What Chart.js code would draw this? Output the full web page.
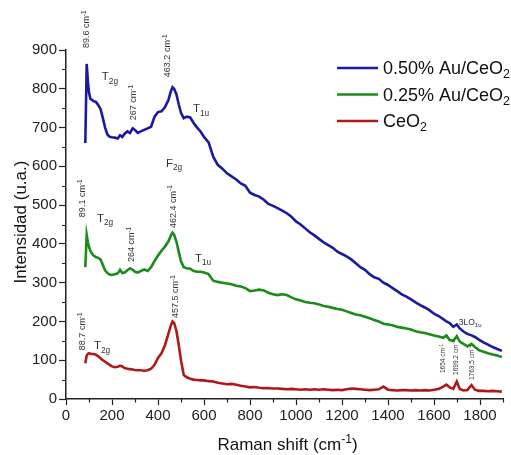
<!DOCTYPE html>
<html>
<head>
<meta charset="utf-8">
<script src="https://cdn.jsdelivr.net/npm/chart.js@4.4.1/dist/chart.umd.min.js"></script>
<style>
  html, body { margin: 0; padding: 0; background: #fff; }
</style>
</head>
<body>
<canvas id="ramanChart" width="511" height="455"></canvas>
<script>
// Raman shift (cm-1), shared by the three spectra
const ramanShift = [
  84, 90, 95, 100, 106, 112, 120, 130, 140, 150,
  160, 170, 180, 190, 200, 212, 225, 235, 245, 255,
  267, 278, 290, 300, 312, 325, 340, 355, 370, 385,
  400, 415, 430, 445, 455, 463, 470, 480, 490, 500,
  512, 525, 540, 555, 570, 585, 600, 620, 640, 660,
  680, 700, 720, 740, 760, 780, 800, 820, 840, 860,
  880, 900, 920, 940, 960, 980, 1000, 1020, 1040, 1060,
  1080, 1100, 1120, 1140, 1160, 1180, 1200, 1220, 1240, 1260,
  1280, 1300, 1320, 1340, 1360, 1380, 1400, 1420, 1440, 1460,
  1480, 1500, 1520, 1540, 1560, 1580, 1600, 1620, 1640, 1654,
  1668, 1684, 1699, 1712, 1728, 1745, 1763, 1778, 1795, 1815,
  1835, 1855, 1875, 1895
];

// 0.50% Au/CeO2
const au050 = [
  660, 864, 820, 790, 774, 772, 768, 766, 758, 748,
  725, 700, 682, 676, 675, 674, 672, 680, 676, 684,
  690, 686, 698, 694, 686, 690, 694, 698, 702, 728,
  740, 742, 752, 770, 792, 804, 800, 786, 760, 738,
  724, 728, 726, 712, 700, 690, 676, 662, 625, 604,
  594, 582, 574, 566, 556, 550, 532, 526, 522, 514,
  503, 498, 492, 486, 479, 470, 458, 450, 440, 430,
  422, 413, 404, 397, 390, 380, 374, 368, 360, 350,
  340, 333, 322, 314, 310, 300, 294, 286, 278, 270,
  264, 257, 249, 242, 236, 229, 220, 214, 206, 200,
  196, 186, 192, 182, 174, 168, 164, 160, 153, 146,
  140, 134, 129, 124
];

// 0.25% Au/CeO2
const au025 = [
  340, 423, 405, 392, 382, 376, 370, 366, 364, 360,
  346, 332, 325, 321, 320, 322, 324, 333, 325, 326,
  332, 337, 333, 328, 326, 330, 334, 330, 340, 356,
  370, 382, 393, 406, 420, 429, 424, 406, 380, 355,
  340, 337, 336, 330, 328, 328, 326, 322, 305, 302,
  300, 298, 296, 292, 290, 286, 278, 280, 282, 280,
  274, 270, 268, 270, 268, 262, 257, 254, 250, 248,
  247, 244, 240, 238, 235, 232, 230, 226, 222, 218,
  216, 212, 208, 204, 200, 194, 192, 190, 186, 184,
  182, 179, 175, 172, 170, 167, 164, 161, 158, 164,
  152, 150, 162, 148, 142, 136, 142, 134, 126, 122,
  118, 115, 112, 108
];

// CeO2
const ceo2 = [
  92, 112, 116, 118, 117, 116, 116, 114, 110, 105,
  100, 96, 92, 88, 84, 82, 83, 86, 84, 80,
  78, 77, 76, 75, 74, 74, 73, 74, 78, 88,
  106, 118, 138, 168, 188, 200, 196, 176, 140, 100,
  62, 56, 52, 50, 49, 48, 48, 46, 45, 42,
  40, 38, 39, 37, 34, 32, 30, 31, 29, 28,
  28, 27, 27, 26, 25, 26, 25, 24, 25, 24,
  25, 24, 25, 24, 23, 24, 23, 25, 27, 26,
  25, 24, 23, 24, 25, 32, 24, 23, 22, 23,
  23, 22, 23, 22, 23, 22, 24, 26, 32, 37,
  30, 26, 45, 26, 22, 23, 36, 24, 21, 21,
  20, 21, 20, 19
];

const xTickValues = [0, 200, 400, 600, 800, 1000, 1200, 1400, 1600, 1800];
const yTickValues = [0, 100, 200, 300, 400, 500, 600, 700, 800, 900];

// peak position labels (rotated), anchored at their lower end, data units
const peakLabels = [
  { x: 87, y: 905, text: '89.6' },
  { x: 291, y: 719, text: '267' },
  { x: 439, y: 830, text: '463.2' },
  { x: 70, y: 469, text: '89.1' },
  { x: 283, y: 353, text: '264' },
  { x: 463, y: 441, text: '462.4' },
  { x: 70, y: 126, text: '88.7' },
  { x: 474, y: 209, text: '457.5' },
  { x: 1639, y: 67, text: '1654', small: true },
  { x: 1693, y: 62, text: '1699.2', small: true },
  { x: 1763, y: 49, text: '1763.5', small: true }
];

// mode labels, centred, data units
const modeLabels = [
  { x: 191, y: 833, main: 'T', sub: '2g' },
  { x: 587, y: 750, main: 'T', sub: '1u' },
  { x: 470, y: 609, main: 'F', sub: '2g' },
  { x: 170, y: 467, main: 'T', sub: '2g' },
  { x: 596, y: 364, main: 'T', sub: '1u' },
  { x: 157, y: 139, main: 'T', sub: '2g' },
  { x: 1757, y: 199, main: '3LO', sub: '1u', small: true }
];

const seriesNames = ['0.50% Au/CeO', '0.25% Au/CeO', 'CeO'];
const seriesColors = ['#1a1aa0', '#1a8c1a', '#ae1a1a'];

const FONT = "'Liberation Sans', Arial, sans-serif";

function richText(ctx, x, y, segs, align) {
    let total = 0;
    segs.forEach(s => { ctx.font = s[1] + 'px ' + FONT; total += ctx.measureText(s[0]).width; });
    let cx = align === 'center' ? x - total / 2 : x;
    segs.forEach(s => {
        ctx.font = s[1] + 'px ' + FONT;
        ctx.fillText(s[0], cx, y + (s[2] || 0));
        cx += ctx.measureText(s[0]).width;
    });
}

const decorations = {
    id: 'decorations',
    afterDraw(chart) {
        const { ctx, chartArea, scales: { x, y } } = chart;
        ctx.save();
        ctx.fillStyle = '#222';
        ctx.textBaseline = 'alphabetic';
        ctx.textAlign = 'left';

        // minor ticks
        ctx.strokeStyle = '#222';
        ctx.lineWidth = 1.2;
        ctx.beginPath();
        for (let v = 100; v <= 1900; v += 200) {
            const px = Math.round(x.getPixelForValue(v)) + 0.5;
            ctx.moveTo(px, chartArea.bottom);
            ctx.lineTo(px, chartArea.bottom + 3.5);
        }
        for (let v = 50; v < 900; v += 100) {
            const py = Math.round(y.getPixelForValue(v)) + 0.5;
            ctx.moveTo(chartArea.left, py);
            ctx.lineTo(chartArea.left - 4, py);
        }
        ctx.stroke();

        // peak labels
        ctx.fillStyle = '#333';
        peakLabels.forEach(p => {
            const fs = p.small ? 6.5 : 9;
            ctx.save();
            ctx.translate(x.getPixelForValue(p.x), y.getPixelForValue(p.y));
            ctx.rotate(-Math.PI / 2);
            richText(ctx, 0, fs * 0.36, [[p.text + ' cm', fs], ['-1', fs * 0.7, -fs * 0.4]], 'left');
            ctx.restore();
        });

        // mode labels
        modeLabels.forEach(m => {
            const fs = m.small ? 8.5 : 11.5;
            richText(ctx, x.getPixelForValue(m.x), y.getPixelForValue(m.y) + fs * 0.36,
                [[m.main, fs], [m.sub, fs * 0.72, fs * 0.3]], 'center');
        });

        // legend
        ctx.fillStyle = '#111';
        const lx = chartArea.right - 166;
        seriesNames.forEach((name, i) => {
            const ly = chartArea.top + 18 + i * 26.5;
            ctx.strokeStyle = seriesColors[i];
            ctx.lineWidth = 2.5;
            ctx.beginPath();
            ctx.moveTo(lx, ly);
            ctx.lineTo(lx + 41, ly);
            ctx.stroke();
            richText(ctx, lx + 46, ly + 6, [[name, 18], ['2', 12.5, 4]], 'left');
        });

        // axis titles
        ctx.fillStyle = '#111';
        richText(ctx, (chartArea.left + chartArea.right) / 2 + 3, 450,
            [['Raman shift (cm', 17], ['-1', 12, -7], [')', 17]], 'center');
        ctx.save();
        ctx.translate(26, 222);
        ctx.rotate(-Math.PI / 2);
        richText(ctx, 0, 0, [['Intensidad (u.a.)', 17]], 'center');
        ctx.restore();

        ctx.restore();
    }
};

const datasets = [au050, au025, ceo2].map((vals, i) => ({
    label: seriesNames[i] + '2',
    data: ramanShift.map((rs, j) => ({ x: rs, y: vals[j] })),
    borderColor: seriesColors[i],
    borderWidth: 2.6,
    pointRadius: 0,
    tension: 0,
    fill: false
}));

const tickFont = { family: FONT, size: 15 };

new Chart(document.getElementById('ramanChart'), {
    type: 'line',
    data: { datasets: datasets },
    options: {
        responsive: false,
        animation: false,
        layout: { padding: { left: 0, right: 8, top: 50, bottom: 0 } },
        plugins: { legend: { display: false }, tooltip: { enabled: false } },
        scales: {
            x: {
                type: 'linear',
                min: 0,
                max: 1900,
                afterBuildTicks: s => { s.ticks = xTickValues.map(v => ({ value: v })); },
                afterFit: s => { s.height = 56; },
                ticks: { font: tickFont, color: '#222', padding: 2, maxRotation: 0, autoSkip: false,
                         callback: v => String(v) },
                grid: { drawOnChartArea: false, tickLength: 6, tickColor: '#222', tickWidth: 1.2 },
                border: { color: '#222', width: 1.5 }
            },
            y: {
                type: 'linear',
                min: 0,
                max: 900,
                afterBuildTicks: s => { s.ticks = yTickValues.map(v => ({ value: v })); },
                afterFit: s => { s.width = 66; },
                ticks: { font: tickFont, color: '#222', padding: 2, callback: v => String(v) },
                grid: { drawOnChartArea: false, tickLength: 7, tickColor: '#222', tickWidth: 1.2 },
                border: { color: '#222', width: 1.5 }
            }
        }
    },
    plugins: [decorations]
});
</script>
</body>
</html>
